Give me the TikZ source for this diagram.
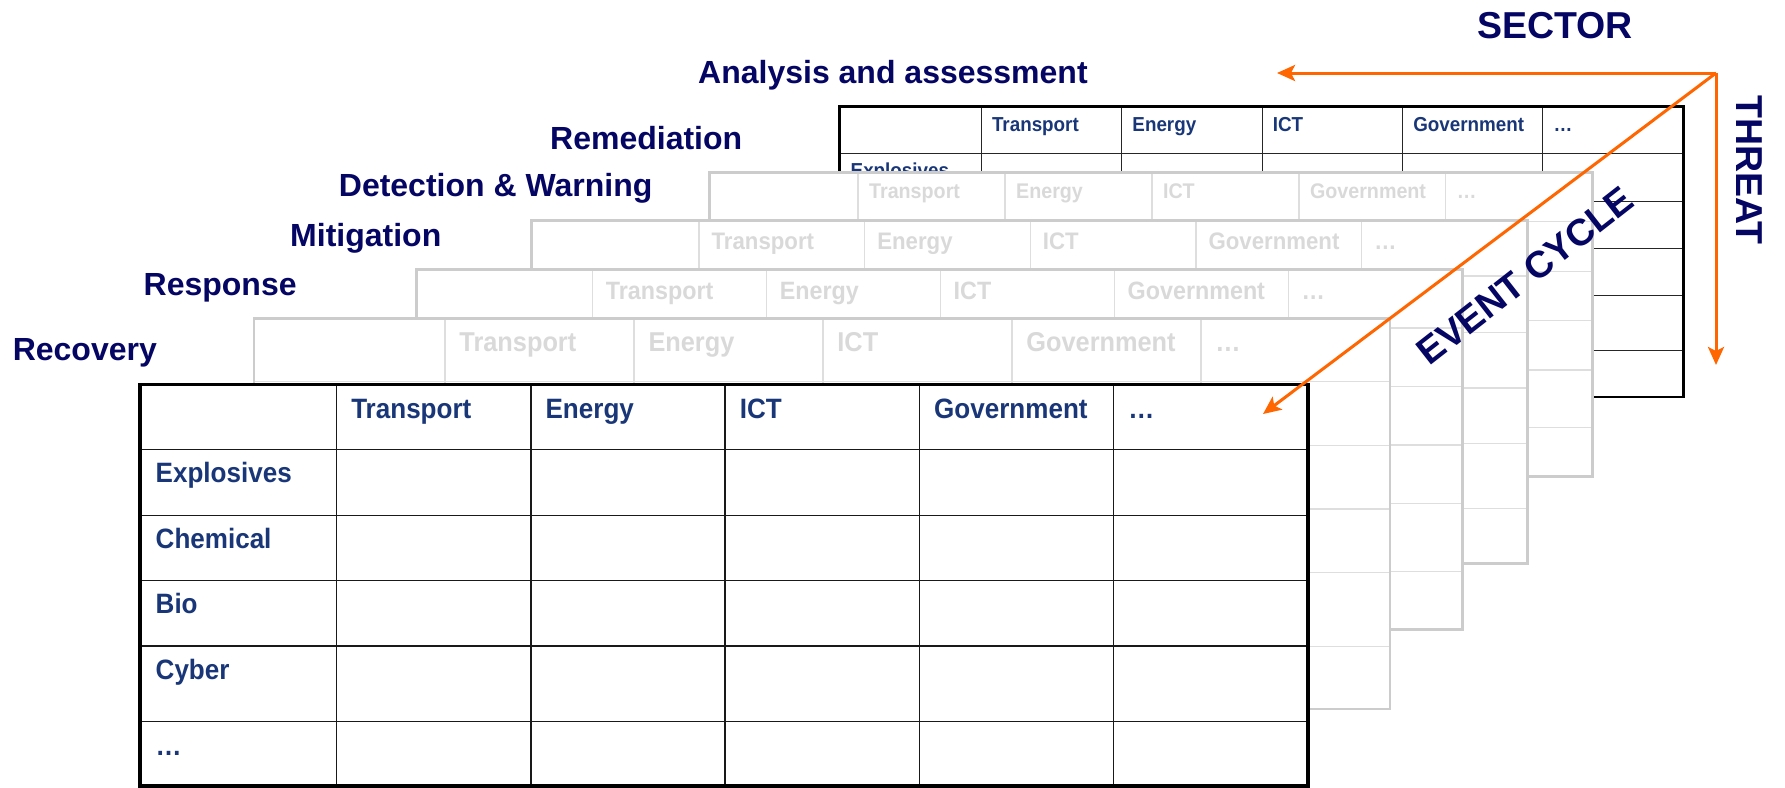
\documentclass[tikz,border=0pt]{standalone}
\usepackage{fontspec}
\setmainfont{Liberation Sans}
\newfontfamily\tblfont[FakeStretch=0.93]{Liberation Sans}
\usetikzlibrary{arrows.meta}
\definecolor{lblnavy}{RGB}{5,5,100}
\definecolor{tblblue}{RGB}{25,55,120}
\definecolor{arrorange}{RGB}{255,102,0}
\definecolor{glineout}{RGB}{204,204,204}
\definecolor{glinein}{RGB}{222,222,222}
\definecolor{gtxt}{RGB}{217,217,217}
\tikzset{
  kouter/.style={draw=black,line width=2.5pt},
  kinner/.style={draw=black!85,line width=1.1pt},
  ktext/.style={text=tblblue,inner sep=0pt},
  gouter/.style={draw=glineout,line width=2.8pt},
  ginner/.style={draw=glinein,line width=1.5pt},
  gtext/.style={text=gtxt,inner sep=0pt},
  fouter/.style={draw=black,line width=3.2pt},
  finner/.style={draw=black!90,line width=1.5pt},
  ftext/.style={text=tblblue,inner sep=0pt},
  lbl/.style={text=lblnavy,font=\bfseries\fontsize{32}{32}\selectfont,anchor=base west,inner sep=0pt},
  axl/.style={text=lblnavy,font=\bfseries\fontsize{37.5}{37.5}\selectfont,inner sep=0pt},
  arr/.style={draw=arrorange,line width=3pt,-{Stealth[length=18pt,width=16pt,inset=4pt]}}
}
% #1 name, #2 left, #3 top, #4 width, #5 style prefix
\newcommand{\drawtbl}[5]{%
  \pgfmathsetmacro{\tbS}{#4/1168}%
  \pgfmathsetmacro{\tbH}{401.7*\tbS}%
  \pgfmathsetmacro{\tbR}{#2+#4}%
  \pgfmathsetmacro{\tbB}{#3+\tbH}%
  \pgfmathsetmacro{\tbFs}{28*\tbS}%
  \fill[white] (#2,#3) rectangle (\tbR,\tbB);
  \foreach \tbf in {0.162,0.326,0.488,0.651,0.840}{
    \draw[#5inner] (#2,{#3+\tbf*\tbH}) -- (\tbR,{#3+\tbf*\tbH});
  }
  \foreach \tbf in {0.1682,0.3346,0.5009,0.6673,0.8336}{
    \draw[#5inner] ({#2+\tbf*#4},#3) -- ({#2+\tbf*#4},\tbB);
  }
  \draw[#5outer] (#2,#3) rectangle (\tbR,\tbB);
  \foreach \tbf/\tbt [count=\tbi] in {0.1682/Transport,0.3346/Energy,0.5009/ICT,0.6673/Government,0.8336/…}{
    \node[#5text,font=\tblfont\bfseries\fontsize{\tbFs}{\tbFs}\selectfont,anchor=base west]
      (#1h\tbi) at ({#2+\tbf*#4+14.6*\tbS},{#3+34*\tbS}) {\tbt};
  }
}
% row labels: #1 name, #2 left, #3 top, #4 width, #5 style prefix, #6 list frac/label
\newcommand{\tblrows}[6]{%
  \pgfmathsetmacro{\tbS}{#4/1168}%
  \pgfmathsetmacro{\tbH}{401.7*\tbS}%
  \pgfmathsetmacro{\tbFs}{28*\tbS}%
  \foreach \tbf/\tbt [count=\tbi] in {#6}{
    \node[#5text,font=\tblfont\bfseries\fontsize{\tbFs}{\tbFs}\selectfont,anchor=base west]
      (#1r\tbi) at ({#2+15.5*\tbS},{#3+\tbf*\tbH+33.5*\tbS}) {\tbt};
  }
}
\begin{document}
\begin{tikzpicture}[x=1pt,y=-1pt]
\useasboundingbox (0,0) rectangle (1785,787);
% tables, back to front
\drawtbl{A}{839.3}{106.7}{844}{k}
\tblrows{A}{839.3}{106.7}{844}{k}{0.162/Explosives}
\drawtbl{B}{709.3}{172.3}{883.4}{g}
\drawtbl{C}{531.5}{220.7}{995.8}{g}
\drawtbl{D}{416.7}{269.5}{1045.6}{g}
\drawtbl{E}{254}{318.3}{1136}{g}
\drawtbl{F}{140}{384.3}{1168}{f}
\tblrows{F}{140}{384.3}{1168}{f}{0.162/Explosives,0.326/Chemical,0.488/Bio,0.651/Cyber,0.840/…}
% labels
\node[lbl] (lAnalysis) at (698,83.3) {Analysis and assessment};
\node[lbl] (lRemediation) at (550,149.3) {Remediation};
\node[lbl] (lDetection) at (338.7,196.7) {Detection \& Warning};
\node[lbl] (lMitigation) at (290,246) {Mitigation};
\node[lbl] (lResponse) at (143.5,295) {Response};
\node[lbl] (lRecovery) at (12.6,360) {Recovery};
% axes
\coordinate (corner) at (1716,73);
\coordinate (sectorEnd) at (1277,73);
\coordinate (threatEnd) at (1716,365);
\coordinate (eventEnd) at (1263,414);
\draw[arr] (corner) -- (sectorEnd);
\draw[arr] (corner) -- (threatEnd);
\draw[arr] (corner) -- (eventEnd);
\node[axl] (sector) at (1555,25.5) {SECTOR};
\node[axl,rotate=-90] (threat) at (1749,170) {THREAT};
\node[axl,rotate=38] (event) at (1525,276) {EVENT CYCLE};
\end{tikzpicture}
\end{document}
